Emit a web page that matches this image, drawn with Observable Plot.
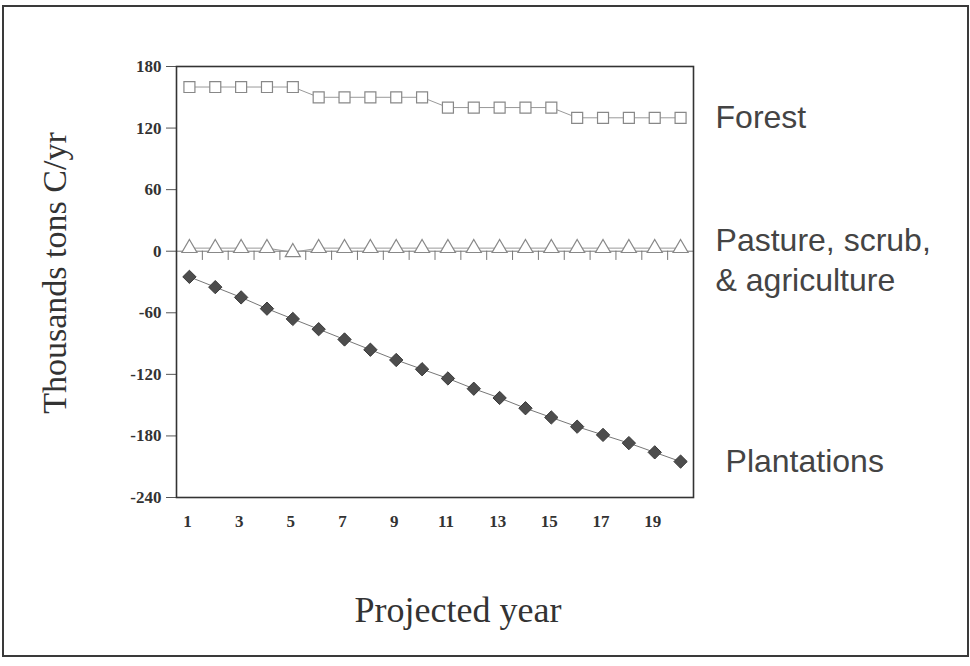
<!DOCTYPE html>
<html><head><meta charset="utf-8">
<script src="https://cdn.jsdelivr.net/npm/d3@7"></script>
<script src="https://cdn.jsdelivr.net/npm/@observablehq/plot@0.6"></script>
<style>
html,body{margin:0;padding:0;background:#fff;overflow:hidden;}
#chart{position:absolute;left:0;top:0;}
#border{position:absolute;left:2px;top:5px;width:963px;height:648px;border:2px solid #3a3a3a;pointer-events:none;}
</style></head><body>
<div id="chart"></div><div id="border"></div>
<script>
const years = [1,2,3,4,5,6,7,8,9,10,11,12,13,14,15,16,17,18,19,20];
const forest = [160,160,160,160,160,150,150,150,150,150,140,140,140,140,140,130,130,130,130,130];
const pasture = [3,3,3,3,-1,3,3,3,3,3,3,3,3,3,3,3,3,3,3,3];
const plantations = [-25,-35,-45,-56,-66,-76,-86,-96,-106,-115,-124,-134,-143,-153,-162,-171,-179,-187,-196,-205];
const yTicks = [-240,-180,-120,-60,0,60,120,180];
const xTickLabels = [1,3,5,7,9,11,13,15,17,19];
const seriesNames = ["Forest", "Pasture, scrub,\n& agriculture", "Plantations"];
const yTitle = "Thousands tons C/yr";
const xTitle = "Projected year";

const rows = (vals) => years.map((x, i) => ({x, y: vals[i]}));
const bounds = years.slice(0, -1).map(d => d + 0.5);
const last = years.length - 1;

const serif = "'Liberation Serif', 'Times New Roman', serif";
const sans = "'Liberation Sans', Arial, sans-serif";

const chart = Plot.plot({
  width: 970, height: 666,
  marginLeft: 176, marginRight: 277, marginTop: 66, marginBottom: 169,
  style: {fontFamily: serif, background: "transparent", color: "#333"},
  x: {domain: [0.5, 20.5]},
  y: {domain: [-240, 180]},
  marks: [
    Plot.ruleY([0], {stroke: "#777", strokeWidth: 1}),
    Plot.ruleX(bounds, {y1: 0, y2: -9, stroke: "#777", strokeWidth: 1}),
    Plot.axisY({ticks: yTicks, tickFormat: d => String(d), tickSize: 10, tickPadding: 5, fontSize: 17, fontWeight: "bold", label: null, stroke: "#555"}),
    Plot.axisX({ticks: xTickLabels, tickFormat: d => String(d), tickSize: 0, tickPadding: 17, fontSize: 17, fontWeight: "bold", label: null, dx: -2}),
    Plot.line(rows(forest), {x: "x", y: "y", stroke: "#999", strokeWidth: 1}),
    Plot.line(rows(pasture), {x: "x", y: "y", stroke: "#999", strokeWidth: 1}),
    Plot.line(rows(plantations), {x: "x", y: "y", stroke: "#777", strokeWidth: 1}),
    Plot.dot(rows(forest), {x: "x", y: "y", symbol: "square", r: 6.2, fill: "white", stroke: "#888", strokeWidth: 1.2}),
    Plot.dot(rows(pasture), {x: "x", y: "y", symbol: "triangle", r: 5.6, fill: "white", stroke: "#888", strokeWidth: 1.2}),
    Plot.dot(rows(plantations), {x: "x", y: "y", symbol: "diamond2", r: 6, fill: "#4d4d4d", stroke: "#3a3a3a", strokeWidth: 1}),
    Plot.frame({stroke: "#333", strokeWidth: 1.6}),
    Plot.text([seriesNames[0]], {x: () => years[last], y: () => forest[last], text: d => d, dx: 35, textAnchor: "start", lineAnchor: "middle", fontFamily: sans, fontSize: 32, fill: "#444"}),
    Plot.text([seriesNames[1]], {x: () => years[last], y: () => pasture[last], text: d => d, dx: 35, dy: 10, textAnchor: "start", lineAnchor: "middle", lineHeight: 1.25, fontFamily: sans, fontSize: 32, fill: "#444"}),
    Plot.text([seriesNames[2]], {x: () => years[last], y: () => plantations[last], text: d => d, dx: 45, textAnchor: "start", lineAnchor: "middle", fontFamily: sans, fontSize: 32, fill: "#444"}),
    Plot.text([yTitle], {frameAnchor: "left", text: d => d, rotate: -90, textAnchor: "middle", lineAnchor: "middle", dx: -121, dy: -9, fontFamily: serif, fontSize: 34, fill: "#333"}),
    Plot.text([xTitle], {frameAnchor: "bottom", text: d => d, textAnchor: "middle", dx: 23, dy: 113, lineAnchor: "middle", fontFamily: serif, fontSize: 36, fill: "#333"})
  ]
});
document.getElementById("chart").appendChild(chart);
</script>
</body></html>
